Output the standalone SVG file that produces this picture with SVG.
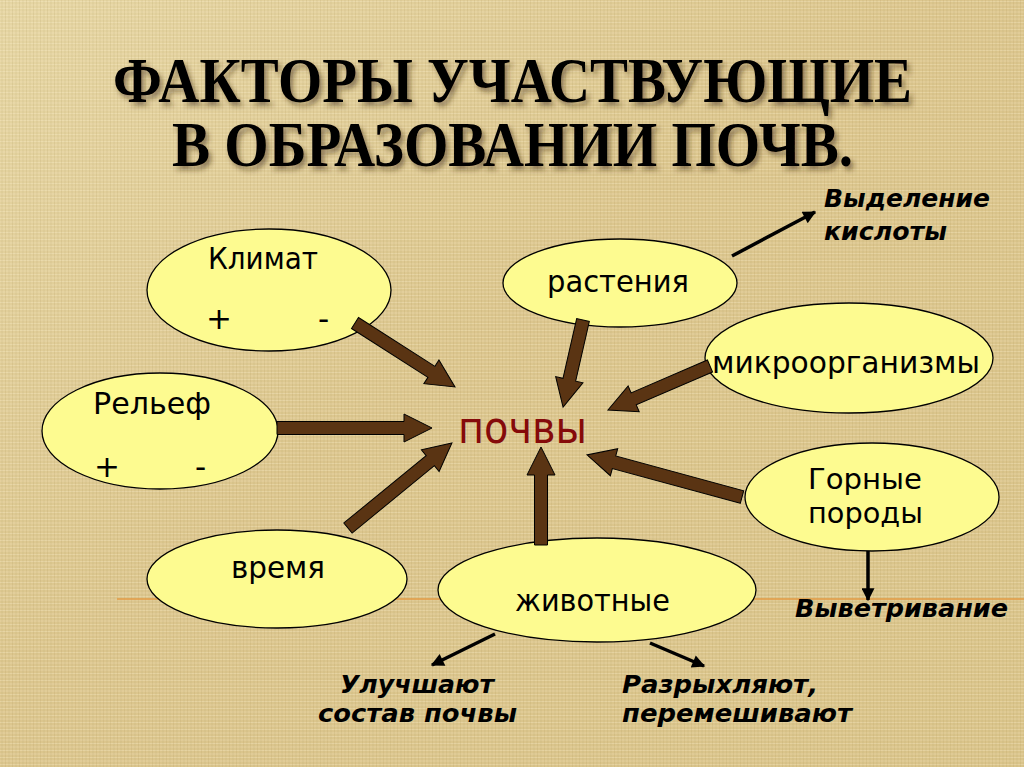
<svg xmlns="http://www.w3.org/2000/svg" width="1024" height="767" viewBox="0 0 1024 767">
<defs>
<linearGradient id="bgGrad" x1="0" y1="0" x2="1" y2="1">
<stop offset="0" stop-color="#e6d6a4"/>
<stop offset="0.45" stop-color="#dcc68e"/>
<stop offset="1" stop-color="#dac48a"/>
</linearGradient>
<pattern id="weave" width="7" height="7" patternUnits="userSpaceOnUse">
<path d="M0 1.5H7 M0 5H7" stroke="#fff4d2" stroke-opacity="0.28" stroke-width="1"/>
<path d="M2 0V7 M5.5 0V7" stroke="#9c7f44" stroke-opacity="0.13" stroke-width="1"/>
</pattern>
<filter id="shadow" x="-5%" y="-20%" width="110%" height="140%">
<feDropShadow dx="3" dy="4" stdDeviation="2.5" flood-color="#3a2a10" flood-opacity="0.5"/>
</filter>
<marker id="ah" viewBox="0 0 10 10" refX="9" refY="5" markerWidth="15" markerHeight="13" markerUnits="userSpaceOnUse" orient="auto">
<path d="M0,0 L10,5 L0,10 z" fill="#000"/>
</marker>
<style>
.node ellipse{fill:#fdfb90;stroke:#000;stroke-width:1.3}
.lbl{font-family:"DejaVu Sans","Liberation Sans",sans-serif;font-size:31px;fill:#000}
.lbl2{font-size:28px}
.note{font-family:"DejaVu Sans","Liberation Sans",sans-serif;font-size:25px;font-weight:bold;font-style:italic;fill:#000}
.title{font-family:"Liberation Serif","DejaVu Serif",serif;font-size:63px;font-weight:bold;fill:#000}
.fat{fill:#5a3413;stroke:#000;stroke-width:1}
.thin{stroke:#000;stroke-width:3.5;fill:none}
</style>
</defs>
<rect width="1024" height="767" fill="url(#bgGrad)"/>
<rect width="1024" height="767" fill="url(#weave)"/>
<line x1="117" y1="599" x2="1024" y2="599" stroke="#e39b45" stroke-width="1.5"/>

<g id="title" filter="url(#shadow)">
<text class="title" x="113" y="102" textLength="799" lengthAdjust="spacingAndGlyphs">ФАКТОРЫ УЧАСТВУЮЩИЕ</text>
<text class="title" x="172" y="166" textLength="681" lengthAdjust="spacingAndGlyphs">В ОБРАЗОВАНИИ ПОЧВ.</text>
</g>

<g id="node-klimat" class="node">
<ellipse cx="269" cy="290" rx="122" ry="61"/>
<text class="lbl" x="208" y="269" textLength="110" lengthAdjust="spacingAndGlyphs">Климат</text>
<text class="lbl" x="206" y="329">+</text>
<text class="lbl" x="318" y="329">-</text>
</g>
<g id="node-relief" class="node">
<ellipse cx="160" cy="431" rx="118" ry="58"/>
<text class="lbl" x="93" y="414" textLength="118" lengthAdjust="spacingAndGlyphs">Рельеф</text>
<text class="lbl" x="94" y="477">+</text>
<text class="lbl" x="195" y="477">-</text>
</g>
<g id="node-time" class="node">
<ellipse cx="277" cy="579" rx="130" ry="49"/>
<text class="lbl" x="231" y="578" textLength="94" lengthAdjust="spacingAndGlyphs">время</text>
</g>
<g id="node-plants" class="node">
<ellipse cx="620" cy="283" rx="117" ry="44"/>
<text class="lbl" x="547" y="292" textLength="142" lengthAdjust="spacingAndGlyphs">растения</text>
</g>
<g id="node-micro" class="node">
<ellipse cx="849" cy="358" rx="144" ry="55"/>
<text class="lbl" x="712" y="373" textLength="268" lengthAdjust="spacingAndGlyphs">микроорганизмы</text>
</g>
<g id="node-rocks" class="node">
<ellipse cx="872" cy="497" rx="127" ry="54"/>
<text class="lbl lbl2" x="808" y="489" textLength="114" lengthAdjust="spacingAndGlyphs">Горные</text>
<text class="lbl lbl2" x="808" y="523" textLength="115" lengthAdjust="spacingAndGlyphs">породы</text>
</g>
<g id="node-animals" class="node">
<ellipse cx="597" cy="590" rx="159" ry="52"/>
<text class="lbl" x="515" y="611" textLength="155" lengthAdjust="spacingAndGlyphs">животные</text>
</g>
<g id="node-soil">
<text x="458" y="443" textLength="129" lengthAdjust="spacingAndGlyphs" style="font-family:'DejaVu Sans','Liberation Sans',sans-serif;font-size:45px;fill:#850a0a">почвы</text>
</g>

<g id="notes">
<text class="note" x="824" y="207" textLength="166" lengthAdjust="spacingAndGlyphs">Выделение</text>
<text class="note" x="824" y="240" textLength="123" lengthAdjust="spacingAndGlyphs">кислоты</text>
<text class="note" x="795" y="617" textLength="213" lengthAdjust="spacingAndGlyphs">Выветривание</text>
<text class="note" x="340" y="693" textLength="154" lengthAdjust="spacingAndGlyphs">Улучшают</text>
<text class="note" x="318" y="722" textLength="199" lengthAdjust="spacingAndGlyphs">состав почвы</text>
<text class="note" x="622" y="693" textLength="196" lengthAdjust="spacingAndGlyphs">Разрыхляют,</text>
<text class="note" x="622" y="722" textLength="230" lengthAdjust="spacingAndGlyphs">перемешивают</text>
</g>

<g id="connectors">
<polygon class="fat" transform="translate(355,323) rotate(32.6)" points="0,-6.5 90.7,-6.5 90.7,-14 118.7,0 90.7,14 90.7,6.5 0,6.5"/>
<polygon class="fat" transform="translate(277,428)" points="0,-6.5 127,-6.5 127,-14 155,0 127,14 127,6.5 0,6.5"/>
<polygon class="fat" transform="translate(348,528) rotate(-39.3)" points="0,-6.5 106.3,-6.5 106.3,-14 134.3,0 106.3,14 106.3,6.5 0,6.5"/>
<polygon class="fat" transform="translate(583,320) rotate(102.9)" points="0,-6.5 61.3,-6.5 61.3,-14 89.3,0 61.3,14 61.3,6.5 0,6.5"/>
<polygon class="fat" transform="translate(710,366) rotate(156.7)" points="0,-6.5 83.1,-6.5 83.1,-14 111.1,0 83.1,14 83.1,6.5 0,6.5"/>
<polygon class="fat" transform="translate(742,497) rotate(195.2)" points="0,-6.5 132.6,-6.5 132.6,-14 160.6,0 132.6,14 132.6,6.5 0,6.5"/>
<polygon class="fat" transform="translate(541,545) rotate(-90)" points="0,-6.5 70,-6.5 70,-14 98,0 70,14 70,6.5 0,6.5"/>
<line class="thin" x1="732" y1="256" x2="815" y2="212" marker-end="url(#ah)"/>
<line class="thin" x1="868" y1="551" x2="868" y2="600" marker-end="url(#ah)"/>
<line class="thin" x1="495" y1="634" x2="432" y2="665" marker-end="url(#ah)"/>
<line class="thin" x1="650" y1="643" x2="704" y2="666" marker-end="url(#ah)"/>
</g>
</svg>
